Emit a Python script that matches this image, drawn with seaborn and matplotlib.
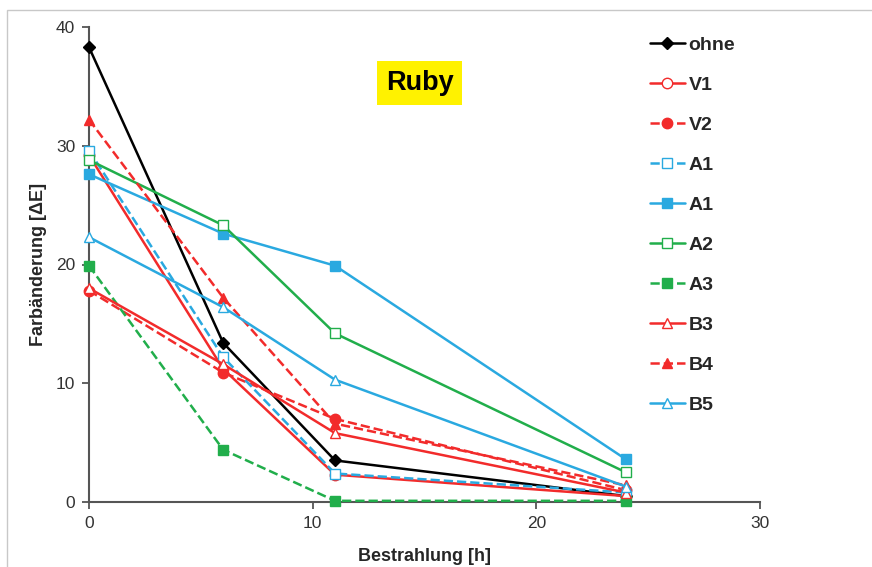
import matplotlib
matplotlib.use("Agg")
import matplotlib.pyplot as plt
import seaborn as sns
from matplotlib.patches import Rectangle

sns.set_theme(style="white")
plt.rcParams["font.family"] = ["Liberation Sans", "DejaVu Sans"]

# Irradiation time [h]
hours = [0, 6, 11, 24]

# Colour change ΔE per sample
ohne = [38.3, 13.4, 3.5, 0.5]
v1 = [29.2, 11.2, 2.3, 0.5]
v2 = [17.8, 10.9, 7.0, 1.0]
a1_dashed = [29.6, 12.2, 2.4, 0.8]
a1 = [27.6, 22.6, 19.9, 3.6]
a2 = [28.8, 23.3, 14.2, 2.5]
a3 = [19.9, 4.4, 0.1, 0.1]
b3 = [18.0, 11.6, 5.8, 0.8]
b4 = [32.2, 17.2, 6.6, 1.4]
b5 = [22.3, 16.4, 10.3, 1.3]

labels = ["ohne", "V1", "V2", "A1", "A1", "A2", "A3", "B3", "B4", "B5"]
x_ticks = [0, 10, 20, 30]
y_ticks = [0, 10, 20, 30, 40]

RED = "#F22B2B"
BLUE = "#2AA9E0"
GREEN = "#21AE4B"
BLACK = "#000000"

# (values, colour, marker, linestyle, filled)
series = [
    (ohne, BLACK, "D", "-", True),
    (v1, RED, "o", "-", False),
    (v2, RED, "o", "--", True),
    (a1_dashed, BLUE, "s", "--", False),
    (a1, BLUE, "s", "-", True),
    (a2, GREEN, "s", "-", False),
    (a3, GREEN, "s", "--", True),
    (b3, RED, "^", "-", False),
    (b4, RED, "^", "--", True),
    (b5, BLUE, "^", "-", False),
]

fig = plt.figure(figsize=(8.72, 5.67), dpi=100)
ax = fig.add_axes([89 / 872, 1 - 502 / 567, (760 - 89) / 872, (502 - 27) / 567])

for (vals, col, mk, ls, filled), lab in zip(series, labels):
    sns.lineplot(
        x=hours, y=vals, ax=ax, color=col, linestyle=ls, linewidth=1.8,
        marker=mk, markersize=7.5 if mk != "D" else 6.5,
        markerfacecolor=col if filled else "white",
        markeredgecolor=col, markeredgewidth=1.0, label=lab,
        dashes=False if ls == "-" else (3, 2), clip_on=False,
    )

ax.set_xlim(0, 30)
ax.set_ylim(0, 40)
ax.set_xticks(x_ticks)
ax.set_yticks(y_ticks)
for sp in ["top", "right"]:
    ax.spines[sp].set_visible(False)
for sp in ["left", "bottom"]:
    ax.spines[sp].set_color("#555555")
    ax.spines[sp].set_linewidth(1.5)
    ax.spines[sp].set_zorder(0.5)
ax.tick_params(axis="both", direction="out", length=5, width=1.3,
               color="#555555", labelsize=12.5, labelcolor="#333333",
               left=True, bottom=True, pad=5)

ax.set_xlabel("Bestrahlung [h]", fontsize=13, fontweight="bold", labelpad=12)
ax.set_ylabel("Farbänderung [ΔE]", fontsize=13, fontweight="bold", labelpad=6)

ax.text(0.493, 0.882, "Ruby", transform=ax.transAxes, ha="center", va="center",
        fontsize=19.5, fontweight="bold", color="black",
        bbox=dict(boxstyle="square,pad=0.32", facecolor="#FFF200", edgecolor="none"))

leg = ax.legend(loc="upper left", bbox_to_anchor=(632 / 872, 1 - 19 / 567),
                bbox_transform=fig.transFigure, frameon=False,
                prop={"weight": "bold", "size": 14}, labelspacing=1.15,
                handlelength=1.8, handletextpad=0.2)
for h in leg.legend_handles:
    h.set_linewidth(1.8)

# light frame around the chart area
fig.patches.append(Rectangle((7 / 872, -0.1), 1.2, 1 - 10 / 567 + 0.1,
                             transform=fig.transFigure, fill=False,
                             edgecolor="#C8C8C8", linewidth=1.0))

fig.savefig("out.png", dpi=100)
